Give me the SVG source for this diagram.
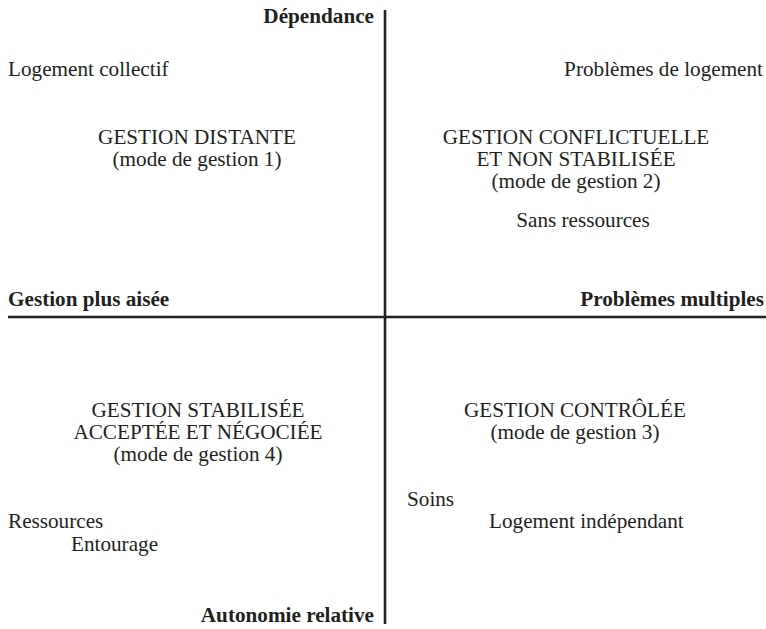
<svg xmlns="http://www.w3.org/2000/svg" width="766" height="629" viewBox="0 0 766 629">
<style>
text{font-size:21.2px;fill:#231f20}
.b{font-weight:bold}
.m{text-anchor:middle}
.e{text-anchor:end}
.ax{stroke:#231f20;stroke-width:2.6;fill:none}
</style>
<rect width="766" height="629" fill="#fff"/>
<g id="axes">
<line class="ax" x1="385" y1="10" x2="385" y2="624"/>
<line class="ax" x1="8" y1="317" x2="766" y2="317"/>
</g>
<g font-family="Liberation Serif, Times New Roman, DejaVu Serif, serif">
<g id="axis-labels">
<text class="b e" x="374" y="23">Dépendance</text>
<text class="b" x="8" y="306">Gestion plus aisée</text>
<text class="b e" x="764" y="306">Problèmes multiples</text>
<text class="b e" x="374" y="622">Autonomie relative</text>
</g>
<g id="q1">
<text x="8" y="76">Logement collectif</text>
<text class="m" x="197" y="144">GESTION DISTANTE</text>
<text class="m" x="197" y="166">(mode de gestion 1)</text>
</g>
<g id="q2">
<text class="e" x="763" y="76">Problèmes de logement</text>
<text class="m" x="576" y="144">GESTION CONFLICTUELLE</text>
<text class="m" x="576" y="166">ET NON STABILISÉE</text>
<text class="m" x="576" y="188">(mode de gestion 2)</text>
<text class="m" x="583" y="227">Sans ressources</text>
</g>
<g id="q4">
<text class="m" x="198" y="417">GESTION STABILISÉE</text>
<text class="m" x="198" y="439">ACCEPTÉE ET NÉGOCIÉE</text>
<text class="m" x="198" y="461">(mode de gestion 4)</text>
<text x="8" y="528">Ressources</text>
<text x="71" y="551">Entourage</text>
</g>
<g id="q3">
<text class="m" x="575" y="417">GESTION CONTRÔLÉE</text>
<text class="m" x="575" y="439">(mode de gestion 3)</text>
<text x="407" y="506">Soins</text>
<text x="489" y="528">Logement indépendant</text>
</g>
</g>
</svg>
